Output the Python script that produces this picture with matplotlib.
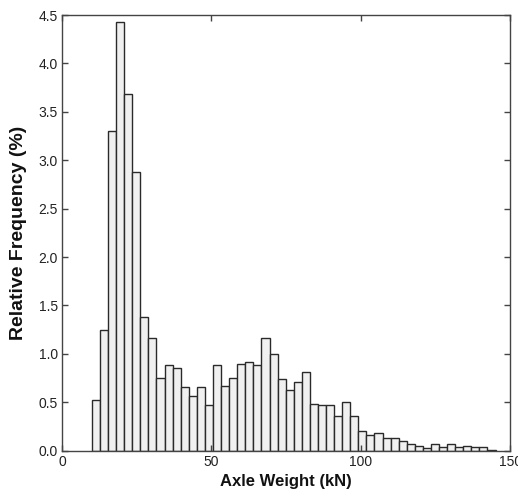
import numpy as np
import matplotlib
matplotlib.use("Agg")
import matplotlib.pyplot as plt

plt.rcParams['font.family'] = ['Liberation Sans', 'DejaVu Sans']

# Relative frequency (%) per axle-weight bin (kN), bins start at 10 kN, width 2.7 kN
freq = [0.52, 1.25, 3.30, 4.43, 3.68, 2.88, 1.38, 1.16, 0.75, 0.88,
        0.85, 0.66, 0.57, 0.66, 0.475, 0.88, 0.67, 0.75, 0.90, 0.92,
        0.88, 1.16, 1.00, 0.74, 0.63, 0.71, 0.81, 0.485, 0.47, 0.47,
        0.36, 0.50, 0.36, 0.20, 0.16, 0.18, 0.13, 0.13, 0.10, 0.07,
        0.05, 0.03, 0.07, 0.04, 0.07, 0.04, 0.05, 0.04, 0.04, 0.01]
bin_start = 10.0
bin_width = 2.7
xticks = [0, 50, 100, 150]
yticks = [0.0, 0.5, 1.0, 1.5, 2.0, 2.5, 3.0, 3.5, 4.0, 4.5]

lefts = bin_start + bin_width * np.arange(len(freq))

fig = plt.figure(figsize=(5.18, 5.0), dpi=100)
ax = fig.add_axes([0.1197, 0.0986, 0.8658, 0.8714])
ax.bar(lefts, freq, width=bin_width, align='edge', facecolor='#f0f0f0',
       edgecolor='#2a2a2a', linewidth=1.0)

ax.set_xlim(0, 150)
ax.set_ylim(0, 4.5)
ax.set_xticks(xticks)
ax.set_xticklabels([str(t) for t in xticks])
ax.set_yticks(yticks)
ax.set_yticklabels([f"{t:.1f}" for t in yticks])
ax.tick_params(direction='in', top=True, right=True, length=4, width=1,
               color='#444444', labelsize=10, labelcolor='#222222', pad=3)
for s in ax.spines.values():
    s.set_color('#444444')
    s.set_linewidth(1.0)

ax.set_xlabel('Axle Weight (kN)', fontsize=12, fontweight='bold', labelpad=4,
              color='#111111')
ax.set_ylabel('Relative Frequency (%)', fontsize=14, fontweight='bold', labelpad=8,
              color='#111111')

fig.savefig('out.png', dpi=100, facecolor='white')
